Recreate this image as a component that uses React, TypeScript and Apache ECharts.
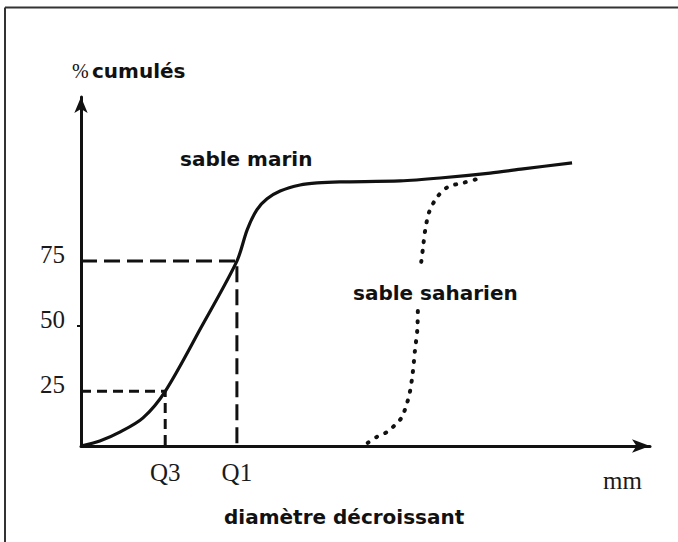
import React, { useEffect, useRef } from "react";
import * as echarts from "echarts";

// Axis ranges (arbitrary units of the schematic)
const X_MIN = 0;
const X_MAX = 100;
const Y_MIN = 4;
const Y_MAX = 138;

// Quartile positions on the x axis
const Q3 = 14.8;
const Q1 = 27.4;
const xTickValues = [Q3, Q1];
const xTickLabels = ["Q3", "Q1"];
const yTickValues = [25, 50, 75];

// Sable marin (solid curve)
const marinX = [0, 3.3, 6.9, 10.9, Q3, 21.1, Q1, 29.2, 30.9, 32.7, 35.0, 38.5, 41.5, 45.5, 56.1, 63.1, 71.9, 77.7, 86.3];
const marinY = [4, 5.9, 9.4, 14.8, 25, 49.5, 75, 87.0, 94.7, 98.9, 101.9, 104.2, 105.0, 105.4, 105.8, 106.9, 108.8, 110.4, 112.7];

// Sable saharien (dotted curve, interrupted by its label)
const saharX = [50.4, 52.0, 53.8, 55.2, 56.4, 57.3, 57.8, 58.3, 58.7, 59.1, 59.2, 59.5, 59.8, 60.1, 60.5, 61.2, 62.6, 64.5, 67.1, 69.6, 70.7];
const saharY: (number | string)[] = [5.2, 7.5, 9.4, 12.1, 15.1, 20.5, 24.7, 32.0, 40.9, 48.5, 56.2, "-", 74.7, 80.0, 87.0, 93.9, 99.6, 103.5, 105.0, 106.5, 107.3];

const INK = "#111";

export default function App() {
  const ref = useRef<HTMLDivElement>(null);

  useEffect(() => {
    if (!ref.current) return;
    const chart = echarts.init(ref.current, undefined, { renderer: "svg" });

    const pairs = (xs: number[], ys: (number | string)[]) => xs.map((x, i) => [x, ys[i]]);

    const serifLabel = {
      fontFamily: "'Liberation Serif', serif",
      fontSize: 25,
      color: "#1a1a1a",
    };
    const boldSans = "bold 20px 'DejaVu Sans', sans-serif";

    chart.setOption({
      animation: false,
      backgroundColor: "#ffffff",
      grid: { left: 81, right: 28, top: 97, bottom: 96, containLabel: false },
      xAxis: {
        type: "value",
        min: X_MIN,
        max: X_MAX,
        splitLine: { show: false },
        axisTick: { show: false },
        axisLine: {
          show: true,
          symbol: ["none", "arrow"],
          symbolSize: [10, 18],
          lineStyle: { color: INK, width: 3 },
        },
        axisLabel: {
          ...serifLabel,
          customValues: xTickValues,
          margin: 14,
          formatter: (v: number) => {
            const i = xTickValues.findIndex((t) => Math.abs(t - v) < 1e-6);
            return i >= 0 ? xTickLabels[i] : "";
          },
        },
      },
      yAxis: {
        type: "value",
        min: Y_MIN,
        max: Y_MAX,
        splitLine: { show: false },
        axisLine: {
          show: true,
          symbol: ["none", "arrow"],
          symbolSize: [10, 16],
          lineStyle: { color: INK, width: 3 },
        },
        axisTick: {
          show: true,
          customValues: [50],
          length: 4,
          lineStyle: { color: INK, width: 2 },
        },
        axisLabel: {
          ...serifLabel,
          customValues: yTickValues,
          margin: 16,
          verticalAlign: "bottom",
          lineHeight: 14,
        },
      },
      series: [
        {
          name: "guide Q1",
          type: "line",
          data: [[X_MIN, 75], [Q1, 75], [Q1, Y_MIN]],
          symbol: "none",
          lineStyle: { color: INK, width: 3, type: [16, 7] },
          silent: true,
          z: 1,
        },
        {
          name: "guide Q3",
          type: "line",
          data: [[X_MIN, 25], [Q3, 25], [Q3, Y_MIN]],
          symbol: "none",
          lineStyle: { color: INK, width: 3, type: [10, 6] },
          silent: true,
          z: 1,
        },
        {
          name: "sable marin",
          type: "line",
          data: pairs(marinX, marinY),
          symbol: "none",
          smooth: 0.3,
          lineStyle: { color: INK, width: 3.2 },
          z: 3,
        },
        {
          name: "sable saharien",
          type: "line",
          data: pairs(saharX, saharY),
          symbol: "none",
          smooth: 0.3,
          connectNulls: false,
          lineStyle: { color: INK, width: 4, type: [1, 9], cap: "round" },
          z: 2,
        },
      ],
      graphic: [
        {
          type: "line",
          shape: { x1: 5, y1: 7.5, x2: 678, y2: 7.5 },
          style: { stroke: "#333", lineWidth: 2 },
          silent: true,
        },
        {
          type: "line",
          shape: { x1: 5, y1: 7.5, x2: 5, y2: 542 },
          style: { stroke: "#333", lineWidth: 2 },
          silent: true,
        },
        {
          type: "text",
          x: 72,
          y: 71,
          style: {
            text: "{p|%} {b|cumulés}",
            rich: {
              p: { font: "20px 'Liberation Serif', serif", fill: INK },
              b: { font: boldSans, fill: INK },
            },
            align: "left",
            verticalAlign: "middle",
            fill: INK,
          },
        },
        {
          type: "text",
          x: 180,
          y: 159,
          style: { text: "sable marin", font: boldSans, fill: INK, align: "left", verticalAlign: "middle" },
        },
        {
          type: "text",
          x: 353,
          y: 293,
          style: { text: "sable saharien", font: boldSans, fill: INK, align: "left", verticalAlign: "middle" },
        },
        {
          type: "text",
          x: 224,
          y: 517,
          style: { text: "diamètre décroissant", font: boldSans, fill: INK, align: "left", verticalAlign: "middle" },
        },
        {
          type: "text",
          x: 603,
          y: 480,
          style: {
            text: "mm",
            font: "25px 'Liberation Serif', serif",
            fill: "#1a1a1a",
            align: "left",
            verticalAlign: "middle",
          },
        },
      ],
    });

    return () => chart.dispose();
  }, []);

  return (
    <div
      ref={ref}
      style={{ position: "fixed", left: 0, top: 0, width: 678, height: 542, background: "#fff" }}
    />
  );
}
